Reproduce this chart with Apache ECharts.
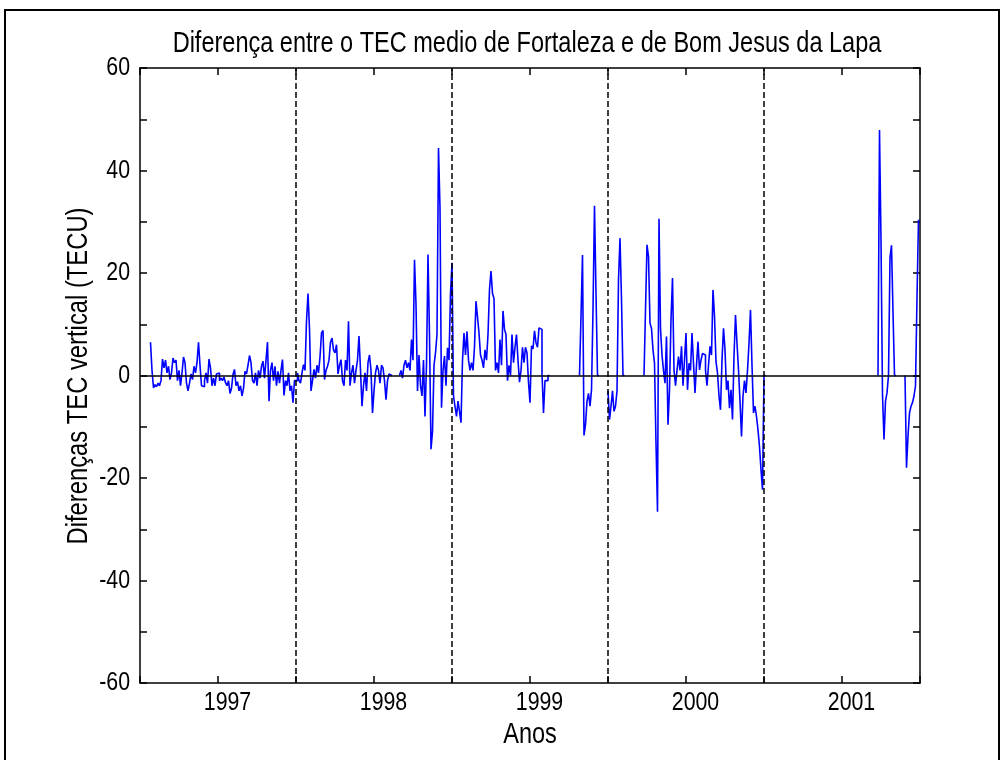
<!DOCTYPE html>
<html><head><meta charset="utf-8">
<script src="https://cdn.jsdelivr.net/npm/echarts@6/dist/echarts.min.js"></script>
<style>html,body{margin:0;padding:0;background:#fff}#c{width:1007px;height:760px}</style>
</head><body><div id="c"></div>
<script>
// ---- data: half-week samples (104 per year), TECU; null = no data ----
const years = [1997, 1998, 1999, 2000, 2001];
const yearLabels = ['1997', '1998', '1999', '2000', '2001'];
const yearBoundaries = [1998, 1999, 2000, 2001];
const yTickValues = [-60, -40, -20, 0, 20, 40, 60];
const yTickLabels = ['-60', '-40', '-20', '0', '20', '40', '60'];
const samplesPerYear = 104;
const _ = null;
const tec1997 = [_,_,_,_,_,_,_,
  6.5,1,-2.4,-1.8,-2.2,-1.5,-2,-1,3.2,1.5,
  3,0.5,1.8,-0.8,0.5,3.4,2.5,3,-1,1,
  -2,0.5,3.6,2.5,-1.5,-3,-1.5,0.3,-0.8,1.8,
  0.5,2.5,6.5,2,-2,-2.2,-1,0.5,-1.5,3.2,
  1.5,-2,-0.5,-2,0.3,0.5,-1,-0.5,-1,-0.3,
  -1.4,-2,-1,-3.5,-2.5,0.2,1.2,-2,-1.2,-3,
  -2,-4,-2.5,0.8,0.3,2,3.9,2.5,-1,-1.5,
  0.5,-2,1,-0.5,1.8,2.8,-0.5,3,6.5,-5,
  1,2.5,-1,1.8,-2,0.8,-1.5,1,3.1,-3.9,
  -1,-2,0.5,-3,-2,-5.3,-1];
const tec1998 = [
  -1,0.5,-1,-1.5,0.5,2.1,1,10.6,16,9,
  -3,-1,1.2,-0.5,2,0.5,3.6,8.3,8.8,-0.8,
  1,1.8,3,6.5,7.3,5,4.4,6,0.3,2,
  3.1,-1,-2,3,1,10.6,-2,0.5,2,-1.5,
  1,3,7.7,1,-6,-2,0.5,-3,2.5,4,
  1,-7.3,-3,0.5,2,1,-1.5,2,1.5,-1,
  -4.7,-1,0.3,0,_,_,_,_,_,0,
  1,-0.5,2,3,1.5,2.5,1,7,3,22.6,
  13.9,-3,4,-2,-4,3,-8,2,23.6,7.7,
  -14.4,-10.9,2,4.4,8,44.4,32.7,-6.3,1,3.8,
  -2,5.4,3,16];
const tec1999 = [
  22,-4,-6,-8,-5,-7,-9.2,3,8.3,4,
  8.6,3,1,2.5,1,5.6,14.5,11.4,8.3,4,
  3,1.5,5,3,8,16.8,20.4,16,15,1,
  2.5,0.5,7,2,12.6,9,8,-1,2,0,
  8,2.5,5.5,8,3,-1.3,1,5.5,2.5,5.5,
  4.4,-1.3,-5.3,5.8,5.2,8.7,6.4,5.5,9.3,9,
  0.5,-7.3,-1,-1,
  0,_,_,_,_,_,_,_,_,_,_,_,_,_,_,_,_,_,_,_,_,0,
  11.6,23.5,-11.7,-9.6,-5,-3.5,-6,-2.8,12.8,33.1,16,
  0,_,_,_,_,_,_];
const tec2000 = [
  -3,-8.6,-6,-3,-7,-6,-3,18.7,26.8,14.8,0,
  _,_,_,_,_,_,_,_,_,_,_,_,_,0,
  12.8,25.5,23.2,10.2,9.2,5,2.4,-13.2,-26.6,30.6,
  9.2,4,1,-1.5,7.6,-9.6,-2.8,10.9,19,1.1,
  -2,1,3.7,1,5.7,-2,3,8.3,-2.8,2.4,
  1,8.3,2.4,-3.4,2,6.6,1.1,3,4.3,4,
  1,-2,2,5.7,4,16.7,11.5,2.7,0.5,-4,
  -6.7,3,9.2,5,-2.8,-1,-6.4,-2.8,-8.6,3.7,
  11.8,6.3,1.1,-5,-11.9,-4,-1,-3.4,1,6.3,
  12.8,2,-7.3,-6,-8,-10.6,-13.9,-18.4,-22.3];
const tec2001 = [
  0,_,_,_,_,_,_,_,_,_,_,_,_,_,_,_,_,_,_,_,
  _,_,_,_,_,_,_,_,_,_,_,_,_,_,_,_,_,_,_,_,
  _,_,_,_,_,_,_,_,_,_,_,_,_,_,_,_,_,_,_,_,
  _,_,_,_,_,_,_,_,_,_,_,_,_,_,_,_,0,
  47.9,26.5,-3.7,-12.5,-5,-3.4,0,23,25.4,12.4,
  0,_,_,_,_,_,_,0,
  -18,-11.8,-7.3,-6,-5.3,-4,-2,15.2,30.4];
const tecByYear = [tec1997, tec1998, tec1999, tec2000, tec2001];

const titleText = 'Diferença entre o TEC medio de Fortaleza e de Bom Jesus da Lapa';
const xName = 'Anos';
const yName = 'Diferenças TEC vertical (TECU)';

const seriesData = [];
years.forEach((yr, i) => tecByYear[i].forEach((v, k) => seriesData.push([yr + k / samplesPerYear, v])));

const FONT = '"Liberation Sans", Arial, sans-serif';
const AX = {color: '#000', width: 1.5};
const NARROW = 0.82;

function txt(text, x, y, size, align, rot) {
  return {
    type: 'text', x: x, y: y, rotation: rot || 0, scaleX: NARROW, scaleY: 1, silent: true,
    style: {text: text, fill: '#000', font: size + 'px ' + FONT, textAlign: align, textVerticalAlign: 'middle'}
  };
}

const baseGraphic = [
  {type: 'rect', shape: {x: 5, y: 10, width: 994, height: 770},
   style: {fill: 'none', stroke: '#000', lineWidth: 2}, silent: true},
  txt(titleText, 527, 44, 28.7, 'center'),
  txt(xName, 530, 735, 28.7, 'center'),
  txt(yName, 79, 376, 29, 'center', Math.PI / 2)
];

const axisCommon = {
  axisLine: {show: true, onZero: false, lineStyle: AX},
  axisTick: {show: true, inside: true, length: 7, lineStyle: AX},
  splitLine: {show: false}, axisLabel: {show: false}
};

const chart = echarts.init(document.getElementById('c'), null, {renderer: 'canvas'});
chart.setOption({
  animation: false,
  backgroundColor: '#fff',
  graphic: baseGraphic,
  grid: {left: 140, right: 87, top: 68, bottom: 77, show: false},
  xAxis: [
    Object.assign({type: 'value', min: 1997, max: 2002, interval: 0.5, position: 'bottom'}, axisCommon),
    Object.assign({type: 'value', min: 1997, max: 2002, interval: 0.5, position: 'top'}, axisCommon)
  ],
  yAxis: [
    Object.assign({type: 'value', min: -60, max: 60, interval: 10, position: 'left'}, axisCommon),
    Object.assign({type: 'value', min: -60, max: 60, interval: 10, position: 'right'}, axisCommon)
  ],
  series: [{
    type: 'line', xAxisIndex: 0, yAxisIndex: 0, data: seriesData, step: 'end',
    showSymbol: false, connectNulls: false, clip: true, z: 2,
    lineStyle: {color: '#0000ff', width: 1.6}
  }, {
    type: 'line', xAxisIndex: 0, yAxisIndex: 0, data: [], z: 5,
    markLine: {
      silent: true, symbol: 'none', label: {show: false}, animation: false,
      data: [
        {yAxis: 0, lineStyle: {color: '#000', width: 1.5, type: 'solid'}},
        ...yearBoundaries.map(b => ({xAxis: b, lineStyle: {color: '#000', width: 1.5, type: [6, 3]}}))
      ]
    }
  }]
});

// Tick labels placed through the axes' own scales (condensed like the original font)
const tickGraphic = [];
years.forEach((yr, i) => {
  const p = chart.convertToPixel({xAxisIndex: 0, yAxisIndex: 0}, [yr + 0.5, -60]);
  tickGraphic.push(txt(yearLabels[i], p[0] + 9.5, p[1] + 20, 26, 'center'));
});
yTickValues.forEach((v, i) => {
  const p = chart.convertToPixel({xAxisIndex: 0, yAxisIndex: 0}, [1997, v]);
  tickGraphic.push(txt(yTickLabels[i], p[0] - 10, p[1], 26, 'right'));
});
chart.setOption({graphic: baseGraphic.concat(tickGraphic)});
</script>
</body></html>
